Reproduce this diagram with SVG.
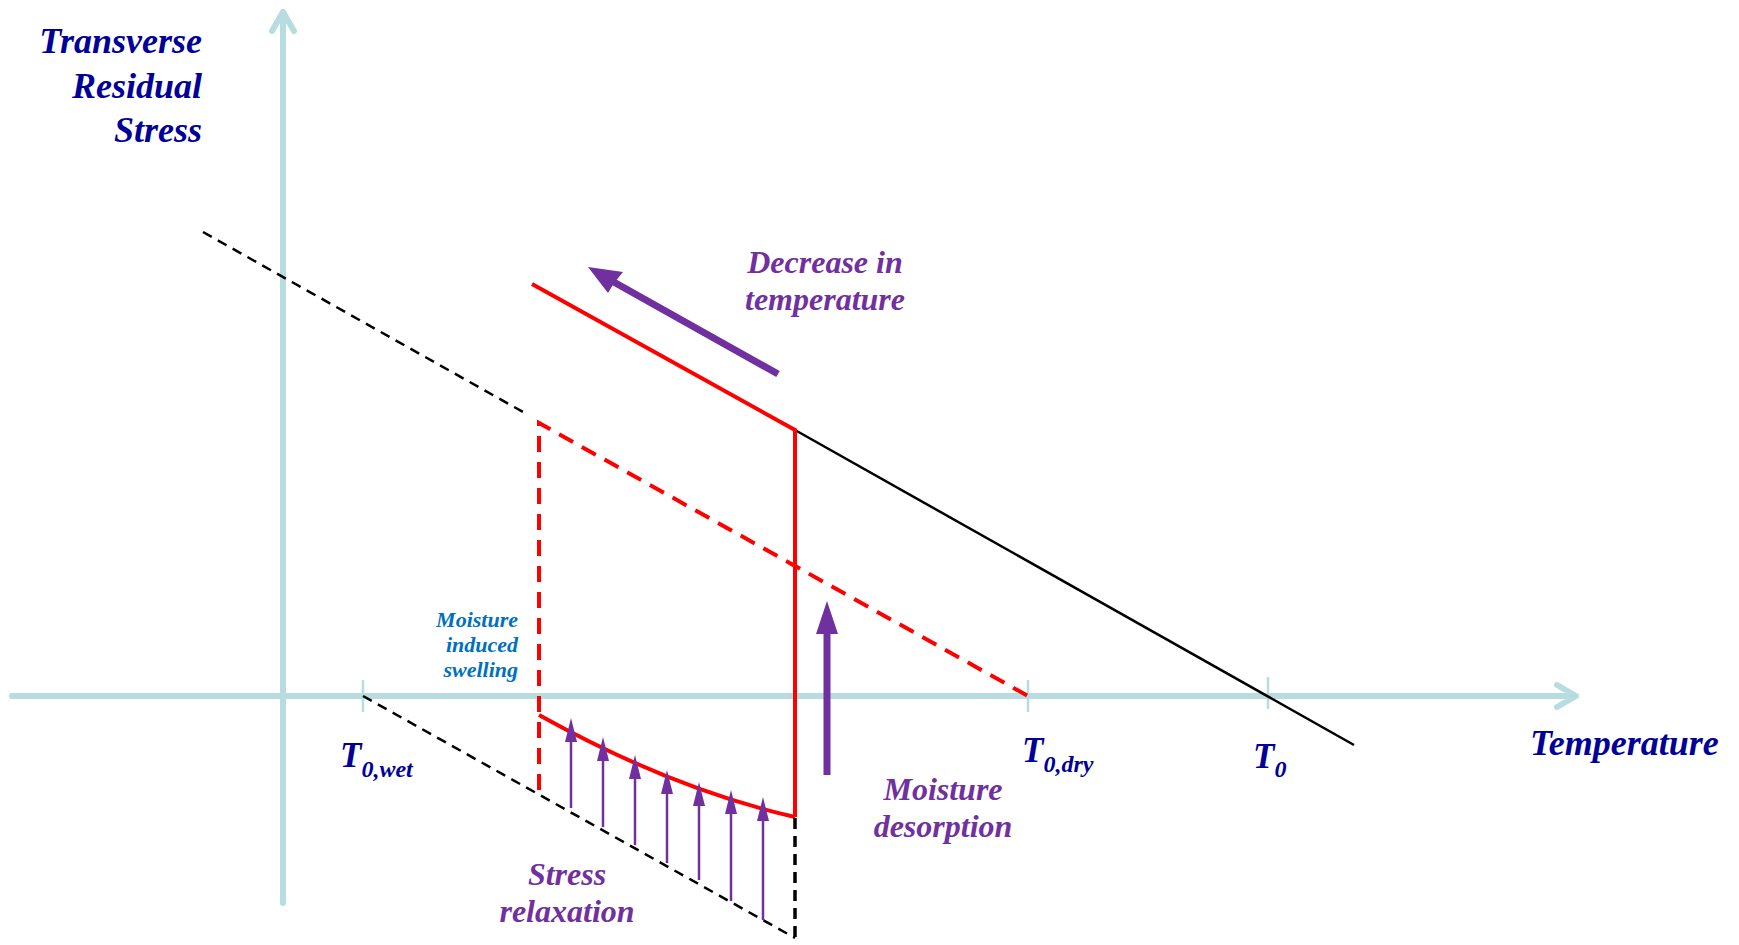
<svg xmlns="http://www.w3.org/2000/svg" width="1739" height="945" viewBox="0 0 1739 945">
<style>
.t{font-family:"Liberation Serif","Times New Roman",serif;font-weight:bold;font-style:italic}
.navy{fill:#000099}
.pur{fill:#7030A0}
.blu{fill:#0070C0}
.axis{stroke:#B7DDE0;stroke-width:6;fill:none;stroke-linecap:round;stroke-linejoin:round}
.tick{stroke:#B7DDE0;stroke-width:2.5}
.red{stroke:#FF0000;stroke-width:4;fill:none}
.redd{stroke:#FF0000;stroke-width:4;fill:none;stroke-dasharray:16 10}
.blk{stroke:#000;stroke-width:2.5;fill:none}
.blkd{stroke:#000;stroke-width:2.5;fill:none;stroke-dasharray:10 7}
.sarr{stroke:#7030A0;stroke-width:2.5;marker-end:url(#sh)}
</style>
<defs>
<marker id="sh" markerUnits="userSpaceOnUse" viewBox="0 0 24 12" refX="0" refY="6" markerWidth="24" markerHeight="12" orient="auto">
<path d="M0,0 L24,6 L0,12 Z" fill="#7030A0"/>
</marker>
</defs>
<rect width="1739" height="945" fill="#fff"/>
<g id="axes">
<path class="axis" d="M283,903 V12 M272,31 L283,12 L294,31"/>
<path class="axis" d="M12,696 H1576 M1557,685 L1576,696 L1557,707"/>
<line class="tick" x1="363" y1="680" x2="363" y2="712"/>
<line class="tick" x1="1028" y1="680" x2="1028" y2="712"/>
<line class="tick" x1="1268" y1="677" x2="1268" y2="709"/>
</g>
<g id="connectors">
<path class="blkd" d="M203,232 L523,412"/>
<path class="blk" d="M795,430 L1354,745"/>
<path class="red" d="M532,284 L795,430 V817"/>
<path class="redd" d="M539,790 V423 L1028,696"/>
<path class="red" d="M539,715 Q672,789 795,817"/>
<path class="blkd" d="M363,696 L795,938"/>
<path class="blkd" style="stroke-width:3.5;stroke-dasharray:11 7" d="M795,818 V940"/>
<line class="sarr" x1="571" y1="808" x2="571" y2="742"/>
<line class="sarr" x1="603" y1="827" x2="603" y2="761"/>
<line class="sarr" x1="635" y1="845" x2="635" y2="779"/>
<line class="sarr" x1="667" y1="863" x2="667" y2="794"/>
<line class="sarr" x1="699" y1="880" x2="699" y2="806"/>
<line class="sarr" x1="731" y1="901" x2="731" y2="814"/>
<line class="sarr" x1="763" y1="920" x2="763" y2="821"/>
</g>
<g id="desorption-arrow">
<line x1="827" y1="775" x2="827" y2="630" stroke="#7030A0" stroke-width="7"/>
<path d="M827,601 L838,634 L816,634 Z" fill="#7030A0"/>
</g>
<g id="decrease-arrow">
<line x1="778" y1="374" x2="612" y2="281" stroke="#7030A0" stroke-width="7"/>
<path d="M588,267 L623,272 L614,283 L608,293 Z" fill="#7030A0"/>
</g>
<g id="label-y">
<text class="t navy" font-size="36" text-anchor="end" x="202" y="53">Transverse</text>
<text class="t navy" font-size="36" text-anchor="end" x="202" y="98">Residual</text>
<text class="t navy" font-size="36" text-anchor="end" x="202" y="142">Stress</text>
</g>
<g id="label-x">
<text class="t navy" font-size="36" x="1530" y="755">Temperature</text>
</g>
<g id="label-t0wet">
<text class="t navy" x="340" y="767"><tspan font-size="35">T</tspan><tspan font-size="24" dy="10">0,wet</tspan></text>
</g>
<g id="label-t0dry">
<text class="t navy" x="1022" y="762"><tspan font-size="35">T</tspan><tspan font-size="24" dy="10">0,dry</tspan></text>
</g>
<g id="label-t0">
<text class="t navy" x="1253" y="768"><tspan font-size="35">T</tspan><tspan font-size="24" dy="9">0</tspan></text>
</g>
<g id="label-decrease">
<text class="t pur" font-size="32" text-anchor="middle" x="825" y="273">Decrease in</text>
<text class="t pur" font-size="32" text-anchor="middle" x="825" y="310">temperature</text>
</g>
<g id="label-swelling">
<text class="t blu" font-size="22" text-anchor="end" x="518" y="627">Moisture</text>
<text class="t blu" font-size="22" text-anchor="end" x="518" y="652">induced</text>
<text class="t blu" font-size="22" text-anchor="end" x="518" y="677">swelling</text>
</g>
<g id="label-desorption">
<text class="t pur" font-size="32" text-anchor="middle" x="943" y="800">Moisture</text>
<text class="t pur" font-size="32" text-anchor="middle" x="943" y="837">desorption</text>
</g>
<g id="label-relaxation">
<text class="t pur" font-size="32" text-anchor="middle" x="567" y="885">Stress</text>
<text class="t pur" font-size="32" text-anchor="middle" x="567" y="922">relaxation</text>
</g>
</svg>
